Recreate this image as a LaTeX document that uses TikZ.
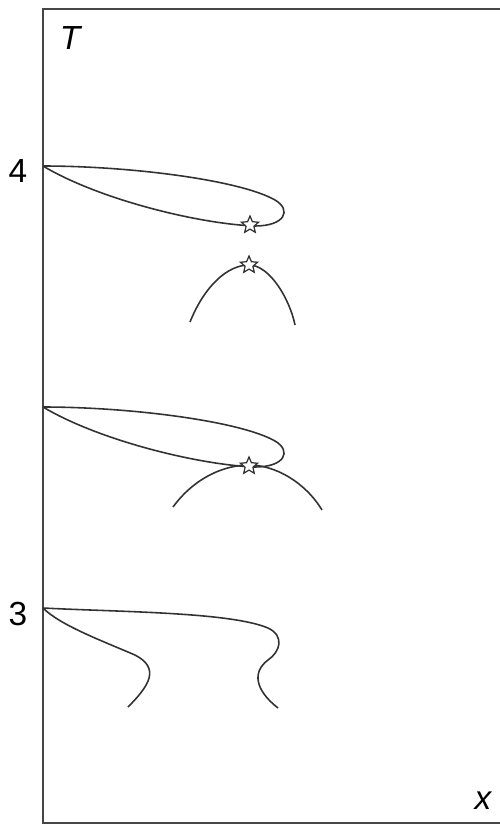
\documentclass[tikz,border=0pt]{standalone}
\usepackage{fontspec}
\setmainfont{Liberation Sans}
\usepackage{tikz}
\usetikzlibrary{shapes.geometric}
\definecolor{framegray}{RGB}{70, 70, 70}
\definecolor{curvegray}{RGB}{50, 50, 50}
\tikzset{
  axisframe/.style={draw=framegray, line width=1.2pt},
  branchline/.style={draw=curvegray, line width=0.9pt},
  axislabel/.style={font=\fontsize{19}{21}\selectfont\itshape, inner sep=0pt},
  ticklabel/.style={font=\fontsize{19}{21}\selectfont, inner sep=0pt},
  critstar/.style={star, star points=5, star point ratio=2.2, draw=curvegray,
    fill=white, line width=0.7pt, minimum size=0.36cm, inner sep=0pt}
}

\begin{document}
\begin{tikzpicture}[x=0.02cm, y=-0.02cm]

  \useasboundingbox (0,0) rectangle (500,825);

  % Frame
  \draw[axisframe] (500,9) -- (43,9) -- (43,823) -- (500,823);

  % Axis and tick labels
  \node[axislabel] (tlabel) at (70,38) {T};
  \node[axislabel] (xlabel) at (483,801) {x};
  \node[ticklabel] (tickfour) at (18,171) {4};
  \node[ticklabel] (tickthree) at (18,614) {3};

  % Upper loop and arc
  \draw[branchline] (43,166) .. controls (130,166) and (240,180) .. (275,200)
    .. controls (292,210) and (285,226) .. (255,226)
    .. controls (200,224) and (100,200) .. (43,166);
  \draw[branchline] (190,322) .. controls (205,285) and (228,265) .. (249,265)
    .. controls (270,265) and (290,300) .. (295,325);

  % Middle loop and arc
  \draw[branchline] (43,407) .. controls (130,407) and (240,421) .. (275,441)
    .. controls (292,451) and (285,467) .. (255,467)
    .. controls (200,465) and (100,441) .. (43,407);
  \draw[branchline] (173,507) .. controls (195,477) and (225,465) .. (249,465)
    .. controls (275,465) and (305,482) .. (322,510);

  % Lower branches
  \draw[branchline] (43,608) .. controls (120,612) and (230,612) .. (268,628)
    .. controls (285,636) and (280,652) .. (268,660)
    .. controls (252,672) and (255,690) .. (278,708);
  \draw[branchline] (43,608) .. controls (60,625) and (100,640) .. (135,655)
    .. controls (160,668) and (150,685) .. (128,707);

  % Critical points
  \node[critstar] (starone) at (250,225) {};
  \node[critstar] (startwo) at (249,265) {};
  \node[critstar] (starthree) at (249,466) {};

\end{tikzpicture}
\end{document}
